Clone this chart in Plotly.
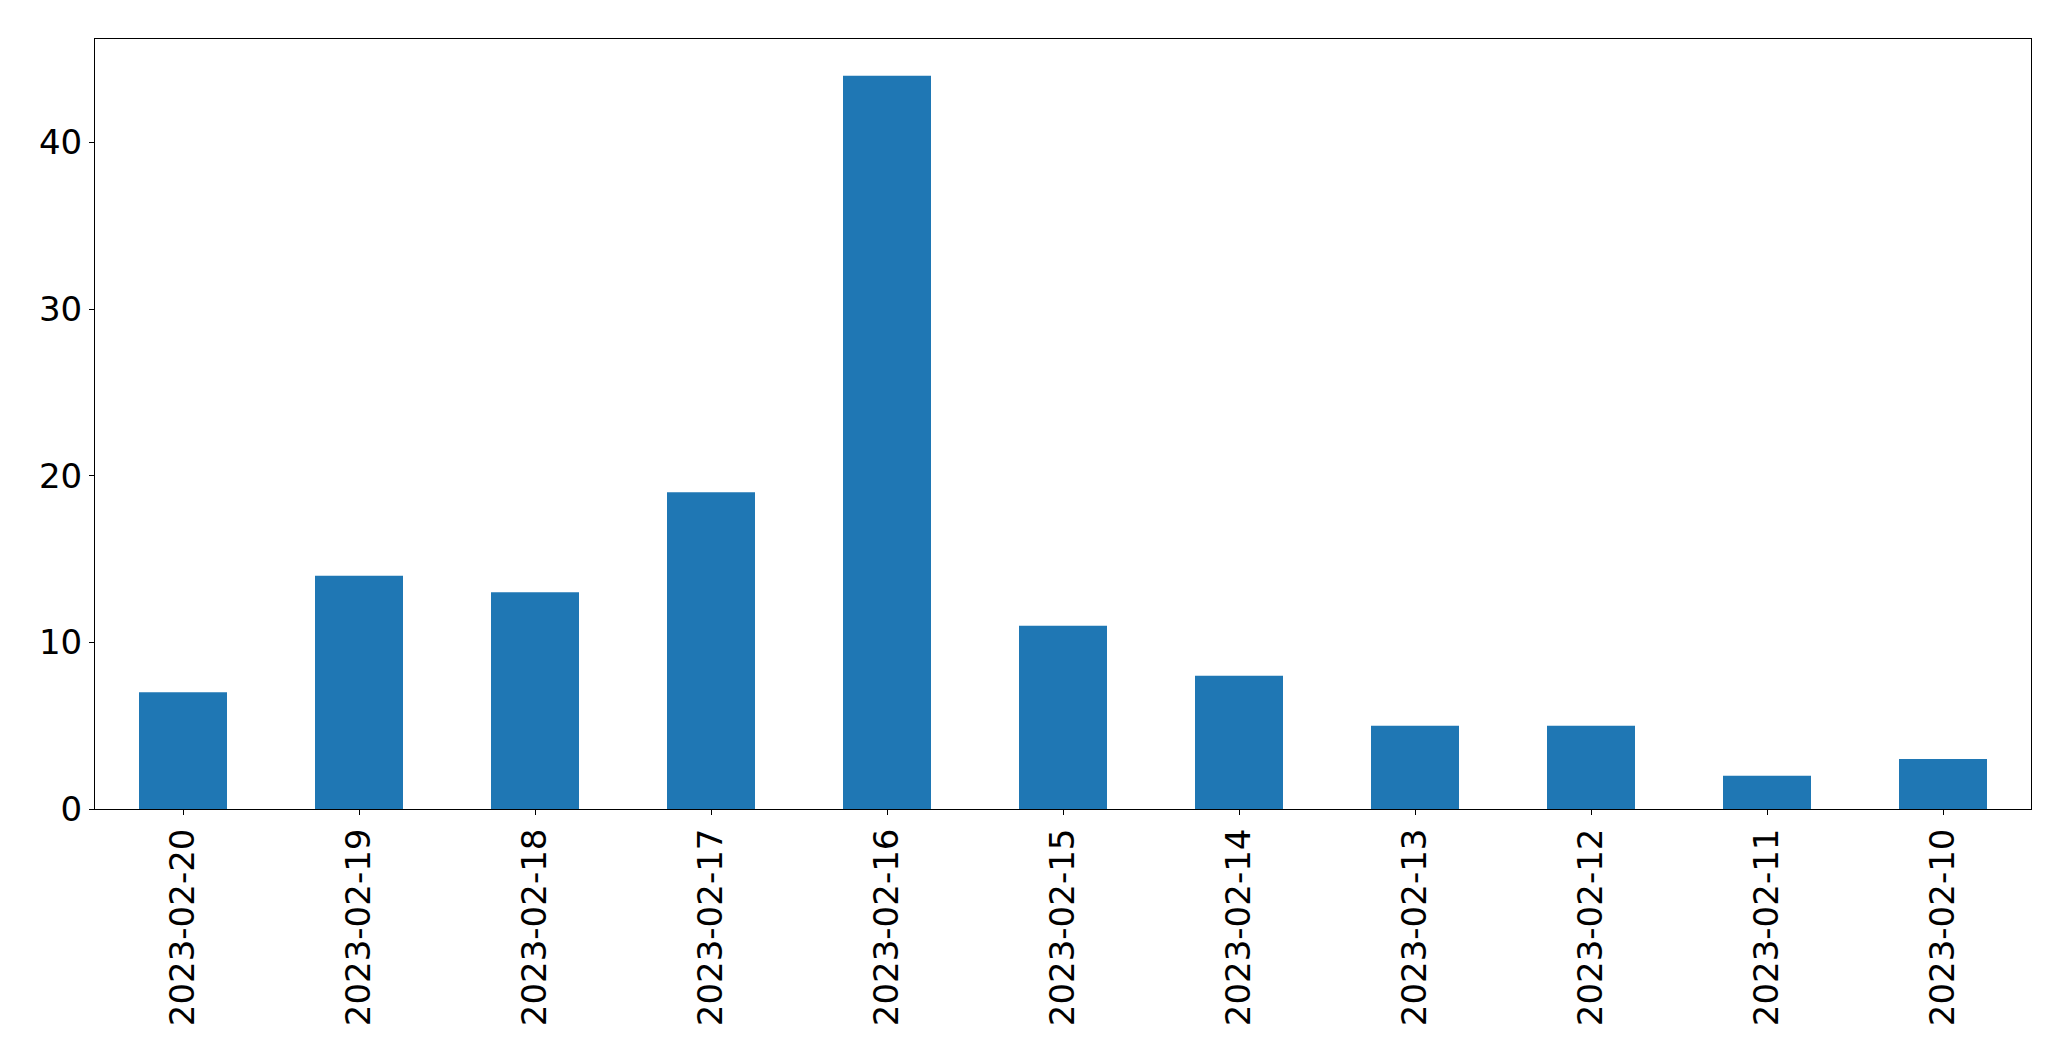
import plotly.graph_objects as go

dates = ["2023-02-20", "2023-02-19", "2023-02-18", "2023-02-17", "2023-02-16",
         "2023-02-15", "2023-02-14", "2023-02-13", "2023-02-12", "2023-02-11", "2023-02-10"]
counts = [7, 14, 13, 19, 44, 11, 8, 5, 5, 2, 3]
y_ticks = [0, 10, 20, 30, 40]

fig = go.Figure(go.Bar(x=dates, y=counts, marker_color="#1f77b4", marker_line_width=0, width=0.5))

axis_common = dict(showline=True, linecolor="black", linewidth=1, mirror=True, automargin=False,
                   ticks="outside", ticklen=5, tickcolor="black", showgrid=False, zeroline=False,
                   tickfont=dict(family="DejaVu Sans", size=34, color="black"))

fig.update_layout(
    width=2063, height=1053,
    margin=dict(l=87, r=40, t=31, b=252),
    paper_bgcolor="white", plot_bgcolor="white",
    showlegend=False,
    bargap=0.5,
    xaxis=dict(type="category", range=[-0.5, 10.5], tickangle=-90, **axis_common),
    yaxis=dict(range=[0, 46.2], tickvals=y_ticks, **axis_common),
)

fig.write_html("out.html")
